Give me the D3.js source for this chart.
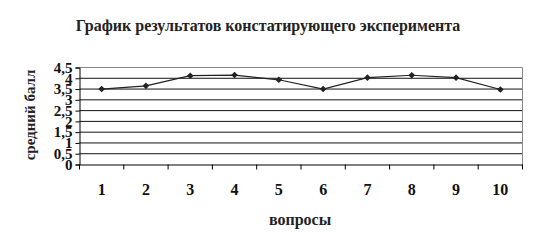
<!DOCTYPE html>
<html><head><meta charset="utf-8">
<script src="https://cdn.jsdelivr.net/npm/d3@7"></script>
<style>body{margin:0;background:#fff}svg{display:block}text{font-family:"Liberation Serif","Times New Roman",serif}</style>
</head><body>
<script>
const categories = ["1","2","3","4","5","6","7","8","9","10"];
const values = [3.5, 3.65, 4.12, 4.15, 3.93, 3.5, 4.03, 4.14, 4.03, 3.48];
const yTicks = [0, 0.5, 1, 1.5, 2, 2.5, 3, 3.5, 4, 4.5];
const titleText = "График результатов констатирующего эксперимента";
const xTitle = "вопросы";
const yTitle = "средний балл";

const W = 538, H = 249;
const m = {left: 79.5, right: 522.5, top: 67.5, bottom: 164.5};

const svg = d3.select("body").append("svg").attr("width", W).attr("height", H);

const x = d3.scaleBand().domain(categories).range([m.left, m.right]);
const y = d3.scaleLinear().domain([0, 4.5]).range([m.bottom, m.top]);

// gridlines
svg.append("g").selectAll("line").data(yTicks.filter(d => d > 0 && d < 4.5)).join("line")
  .attr("x1", m.left).attr("x2", m.right)
  .attr("y1", d => y(d)).attr("y2", d => y(d))
  .attr("stroke", "#111").attr("stroke-width", 1);

// plot border (top/right)
svg.append("path")
  .attr("d", `M${m.left},${m.top}H${m.right}V${m.bottom}`)
  .attr("fill", "none").attr("stroke", "#888").attr("stroke-width", 1);

// y axis
const fmt = d => String(d).replace(".", ",");
const yAxis = svg.append("g").attr("transform", `translate(${m.left},0)`)
  .call(d3.axisLeft(y).tickValues(yTicks).tickFormat(fmt).tickSize(4).tickPadding(3));
yAxis.attr("font-family", null);
yAxis.select(".domain").attr("stroke", "#000");
yAxis.selectAll(".tick line").attr("stroke", "#000");
yAxis.selectAll("text").attr("font-weight", "bold")
  .attr("font-size", 15).attr("fill", "#111");

// x axis
const xAxis = svg.append("g").attr("transform", `translate(0,${m.bottom})`)
  .call(d3.axisBottom(x).tickSize(0).tickPadding(19));
xAxis.attr("font-family", null);
xAxis.select(".domain").attr("stroke", "#000");
xAxis.selectAll("text").attr("font-weight", "bold")
  .attr("font-size", 16).attr("fill", "#111");
const bounds = categories.map(c => x(c)).concat([m.right]);
svg.append("g").selectAll("line").data(bounds).join("line")
  .attr("x1", d => d).attr("x2", d => d)
  .attr("y1", m.bottom).attr("y2", m.bottom + 5)
  .attr("stroke", "#000");

// line
const cx = c => x(c) + x.bandwidth() / 2;
svg.append("path").datum(values)
  .attr("d", d3.line().x((d, i) => cx(categories[i])).y(d => y(d)))
  .attr("fill", "none").attr("stroke", "#222").attr("stroke-width", 1.2);
svg.append("g").selectAll("path").data(values).join("path")
  .attr("d", d3.symbol().type(d3.symbolDiamond2).size(28))
  .attr("transform", (d, i) => `translate(${cx(categories[i])},${y(d)})`)
  .attr("fill", "#222");

// titles
svg.append("text").attr("x", 268).attr("y", 31).attr("text-anchor", "middle")
  .attr("font-weight", "bold").attr("font-size", 16)
  .attr("fill", "#222").text(titleText);
svg.append("text").attr("x", 300).attr("y", 225).attr("text-anchor", "middle")
  .attr("font-weight", "bold").attr("font-size", 16)
  .attr("fill", "#222").text(xTitle);
svg.append("text").attr("transform", "translate(35,115) rotate(-90)").attr("text-anchor", "middle")
  .attr("font-weight", "bold").attr("font-size", 15)
  .attr("fill", "#222").text(yTitle);
</script>
</body></html>
